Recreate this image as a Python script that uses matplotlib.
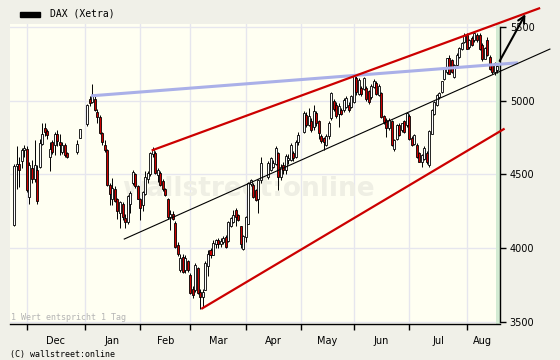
import numpy as np
import pandas as pd
import matplotlib
matplotlib.use('Agg')
import matplotlib.pyplot as plt
from matplotlib.patches import Rectangle

# weekday calendar, Xetra closed on the holidays
days = pd.bdate_range('2008-11-24', '2009-08-19')
holidays = ['2008-12-24', '2008-12-25', '2008-12-26', '2008-12-31', '2009-01-01',
            '2009-04-10', '2009-04-13', '2009-05-01']
month_names = ['Dec', 'Jan', 'Feb', 'Mar', 'Apr', 'May', 'Jun', 'Jul', 'Aug']

opens = [4160, 4556, 4570, 4590, 4665, 4670, 4350, 4540, 4470, 4530, 4550, 4710, 4810, 4790, 4620,
         4720, 4700, 4775, 4720, 4655, 4700, 4640, 4655, 4750, 4845, 5010, 4990, 5010, 4920, 4890,
         4780, 4700, 4664, 4425, 4335, 4400, 4330, 4240, 4300, 4200, 4175, 4300, 4440, 4500, 4420,
         4330, 4290, 4370, 4470, 4506, 4640, 4640, 4500, 4510, 4450, 4400, 4330, 4215, 4230, 4165,
         4020, 3855, 3940, 3850, 3910, 3817, 3720, 3715, 3860, 3700, 3670, 3720, 3880, 3985, 3955,
         4030, 4050, 4030, 4045, 4075, 4050, 4150, 4180, 4255, 4220, 4145, 3998, 4077, 4167, 4438,
         4427, 4393, 4337, 4461, 4484, 4529, 4551, 4574, 4642, 4484, 4563, 4529, 4600, 4600, 4640,
         4620, 4721, 4789, 4902, 4834, 4857, 4823, 4913, 4860, 4760, 4745, 4700, 4760, 4880, 4993,
         4970, 4913, 4936, 4936, 4960, 4970, 4958, 4992, 5151, 5049, 5083, 5083, 5083, 5060, 5026,
         5094, 5117, 5040, 5049, 4891, 4868, 4812, 4857, 4676, 4744, 4834, 4800, 4857, 4834, 4891,
         4744, 4710, 4700, 4642, 4585, 4608, 4642, 4563, 4777, 4913, 4970, 5026, 5060, 5150, 5196,
         5286, 5275, 5162, 5241, 5297, 5354, 5399, 5444, 5365, 5422, 5410, 5444, 5444, 5376, 5286,
         5410, 5297, 5241, 5196, 5207]
highs = [4570, 4690, 4620, 4680, 4700, 4690, 4580, 4600, 4730, 4560, 4740, 4845, 4850, 4810, 4720,
         4730, 4790, 4800, 4770, 4720, 4710, 4650, 4730, 4810, 4975, 5030, 5112, 5040, 4940, 4900,
         4790, 4730, 4670, 4440, 4472, 4420, 4340, 4320, 4310, 4230, 4360, 4390, 4530, 4510, 4430,
         4340, 4390, 4520, 4520, 4650, 4682, 4660, 4545, 4520, 4470, 4410, 4340, 4260, 4250, 4180,
         4040, 3960, 3960, 3950, 3920, 3830, 3740, 3900, 3870, 3720, 3720, 3910, 3985, 4000, 4055,
         4060, 4065, 4070, 4085, 4090, 4185, 4210, 4260, 4270, 4230, 4150, 4090, 4215, 4445, 4470,
         4440, 4400, 4470, 4620, 4590, 4620, 4600, 4690, 4650, 4570, 4580, 4640, 4640, 4710, 4660,
         4735, 4790, 4930, 4920, 4947, 4880, 4970, 4930, 4870, 4770, 4750, 4770, 4860, 5060, 5010,
         4990, 4980, 4950, 5015, 5030, 4990, 5040, 5173, 5165, 5150, 5100, 5162, 5100, 5070, 5110,
         5145, 5130, 5110, 5060, 4900, 4880, 4880, 4870, 4740, 4840, 4850, 4850, 4865, 4925, 4910,
         4760, 4770, 4710, 4650, 4635, 4690, 4660, 4800, 4940, 5000, 5045, 5060, 5135, 5225, 5290,
         5310, 5285, 5250, 5320, 5365, 5400, 5460, 5455, 5420, 5440, 5467, 5460, 5455, 5390, 5360,
         5433, 5310, 5250, 5260, 5240]
lows = [4150, 4400, 4415, 4540, 4620, 4380, 4300, 4440, 4450, 4300, 4540, 4700, 4760, 4740, 4520,
        4640, 4630, 4690, 4630, 4640, 4620, 4610, 4640, 4745, 4827, 4960, 4985, 4930, 4850, 4770,
        4700, 4650, 4420, 4290, 4290, 4310, 4200, 4133, 4190, 4133, 4160, 4240, 4430, 4410, 4330,
        4190, 4250, 4360, 4440, 4490, 4620, 4500, 4450, 4420, 4390, 4350, 4200, 4120, 4190, 4000,
        3945, 3840, 3830, 3830, 3840, 3690, 3660, 3700, 3690, 3590, 3600, 3715, 3810, 3930, 3950,
        4000, 4000, 4010, 4030, 4000, 4040, 4140, 4170, 4150, 4180, 4000, 3990, 4040, 4160, 4420,
        4340, 4320, 4235, 4440, 4470, 4520, 4540, 4560, 4394, 4460, 4500, 4500, 4570, 4590, 4590,
        4610, 4700, 4780, 4820, 4830, 4790, 4800, 4830, 4740, 4710, 4665, 4690, 4740, 4870, 4930,
        4880, 4823, 4900, 4925, 4950, 4920, 4950, 4985, 5040, 5040, 5030, 5070, 5000, 4975, 5010,
        5085, 5040, 5030, 4880, 4840, 4755, 4800, 4690, 4660, 4735, 4760, 4790, 4780, 4820, 4735,
        4690, 4700, 4610, 4580, 4551, 4600, 4570, 4551, 4770, 4900, 4960, 5010, 5050, 5140, 5180,
        5180, 5190, 5150, 5230, 5290, 5340, 5390, 5350, 5350, 5370, 5400, 5400, 5340, 5270, 5280,
        5300, 5210, 5180, 5173, 5190]
closes = [4556, 4570, 4530, 4665, 4680, 4395, 4560, 4470, 4560, 4320, 4710, 4775, 4790, 4765, 4670,
          4655, 4775, 4730, 4700, 4700, 4630, 4620, 4705, 4805, 4970, 4985, 5030, 4940, 4890, 4780,
          4720, 4665, 4427, 4367, 4405, 4320, 4250, 4310, 4210, 4175, 4348, 4370, 4517, 4420, 4337,
          4270, 4380, 4480, 4505, 4642, 4670, 4510, 4530, 4430, 4405, 4360, 4215, 4230, 4200, 4010,
          3960, 3930, 3840, 3930, 3850, 3700, 3680, 3885, 3700, 3670, 3700, 3900, 3960, 3955, 4030,
          4050, 4030, 4045, 4065, 4010, 4178, 4200, 4225, 4215, 4190, 4030, 4077, 4210, 4438, 4461,
          4348, 4325, 4461, 4574, 4574, 4608, 4574, 4676, 4484, 4551, 4529, 4620, 4610, 4695, 4610,
          4720, 4766, 4913, 4834, 4891, 4800, 4925, 4846, 4780, 4725, 4720, 4760, 4845, 5049, 4947,
          4900, 4959, 4913, 5004, 5015, 4936, 5026, 5162, 5060, 5140, 5049, 5151, 5015, 4992, 5094,
          5128, 5049, 5100, 4891, 4857, 4812, 4868, 4698, 4732, 4834, 4766, 4845, 4790, 4913, 4744,
          4698, 4766, 4620, 4585, 4631, 4676, 4585, 4789, 4936, 4992, 5037, 5049, 5128, 5218, 5286,
          5184, 5196, 5241, 5309, 5354, 5388, 5444, 5354, 5410, 5376, 5456, 5410, 5354, 5286, 5354,
          5309, 5218, 5196, 5252, 5230]

# drawn trend lines: (day index, DAX level) at both ends
blue_line = ([30.5, 200.3], [5032, 5256])
red_upper = ([55.0, 208.7], [4664, 5625])
red_lower = ([74.7, 194.6], [3591, 4806])
black_line = ([43.7, 213.0], [4061, 5349])
arrow_pts = ([192.5, 203.8], [5252, 5602])

hol = pd.to_datetime(holidays)
pos = np.array([i for i, d in enumerate(days) if d not in hol])
O, H, L, C = (np.array(a, dtype=float) for a in (opens, highs, lows, closes))
assert len(pos) == len(O) == len(H) == len(L) == len(C)

month_start = [i for i in range(1, len(days)) if days[i].month != days[i - 1].month]
month_mid = [(a + b) / 2 for a, b in zip(month_start, month_start[1:] + [len(days) - 1])]

bg = '#f0f0e8'
fig = plt.figure(figsize=(5.6, 3.6), dpi=100, facecolor=bg)
ax = fig.add_axes([10 / 560, 1 - 324 / 360, 490 / 560, 300 / 360], facecolor='#fffff2')

ax.set_xlim(-1.75, 193.15)
ax.set_ylim(3485, 5519)

for m in month_start:
    ax.axvline(m, color='#e6e6ee', lw=1, zorder=0)
for v in range(3500, 6000, 500):
    ax.axhline(v, color='#e6e6ee', lw=1, zorder=0)
ax.axvspan(191.6, 193.15, color='#d3ebd3', lw=0, zorder=0.5)

ax.text(93, 4400, 'wallstreet:online', fontsize=19, fontweight='bold', color='#efefe4',
        ha='center', va='center', zorder=0.8)

# candles
up = C >= O
ax.vlines(pos, L, H, color='black', lw=0.7, zorder=2)
ax.bar(pos, np.abs(C - O) + 3, bottom=np.minimum(O, C) - 1.5, width=0.8,
       color=np.where(up, 'white', '#cc0000'), edgecolor='black', linewidth=0.6, zorder=3)

ax.plot(*blue_line, color='#aab0e8', lw=2.2, zorder=4, clip_on=False, solid_capstyle='butt')
ax.plot(*red_upper, color='#cc0000', lw=1.6, zorder=4, clip_on=False)
ax.plot(*red_lower, color='#cc0000', lw=1.6, zorder=4, clip_on=False)
ax.plot(*black_line, color='black', lw=0.8, zorder=4, clip_on=False)
ax.annotate('', xy=(arrow_pts[0][1], arrow_pts[1][1]), xytext=(arrow_pts[0][0], arrow_pts[1][0]),
            arrowprops=dict(arrowstyle='->', color='black', lw=1.5, mutation_scale=12),
            annotation_clip=False, zorder=5)

# axes styling
for s in ['left', 'top']:
    ax.spines[s].set_visible(False)
ax.spines['right'].set_bounds(3500, 5500)
ax.spines['right'].set_linewidth(1)
ax.spines['bottom'].set_linewidth(1)
ax.yaxis.tick_right()
ax.set_yticks(range(3500, 6000, 500))
ax.tick_params(axis='y', direction='out', length=4, width=1, pad=3, labelsize=7)
ax.set_xticks(month_start)
ax.set_xticklabels([])
ax.tick_params(axis='x', which='major', direction='out', length=4, width=1)
ax.set_xticks(month_mid, minor=True)
ax.set_xticklabels(month_names, minor=True, fontsize=7)
ax.tick_params(axis='x', which='minor', length=0, pad=9)

ax.text(0.002, 0.008, '1 Wert entspricht 1 Tag', transform=ax.transAxes, fontsize=6,
        family='DejaVu Sans Mono', color='#b4b4b4', va='bottom', ha='left')
fig.patches.append(Rectangle((20 / 560, 1 - 16.5 / 360), 20 / 560, 5 / 360,
                             transform=fig.transFigure, color='black'))
fig.text(50 / 560, 1 - 14 / 360, 'DAX (Xetra)', family='DejaVu Sans Mono', fontsize=7, va='center')
fig.text(10 / 560, 1 - 354 / 360, '(C) wallstreet:online', family='DejaVu Sans Mono',
         fontsize=6, va='center')

fig.savefig('out.png', dpi=100, facecolor=bg)
